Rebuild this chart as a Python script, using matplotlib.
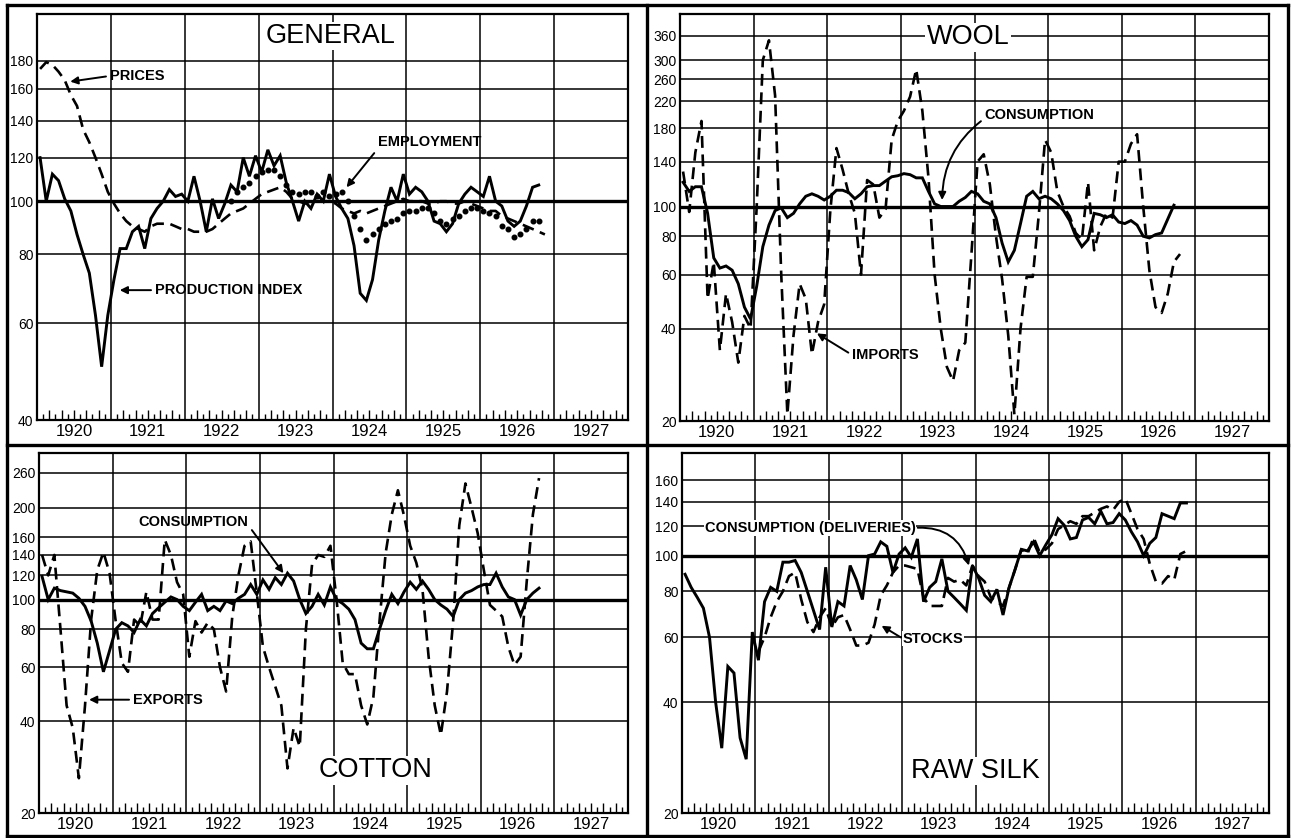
import numpy as np
import matplotlib
matplotlib.use("Agg")
import matplotlib.pyplot as plt
import matplotlib.transforms as mtransforms
from matplotlib.lines import Line2D
from matplotlib.ticker import FixedLocator, FixedFormatter, NullLocator, NullFormatter

plt.rcParams['font.family'] = ['Liberation Sans', 'DejaVu Sans']

YEARS = list(range(1920, 1928))

# ---- GENERAL (monthly index numbers from Jan 1920) ----
general_production = [120, 100, 112, 109, 101, 96, 87, 80, 74, 62, 50, 62,
                      72, 82, 82, 88, 90, 82, 93, 97, 100, 105, 102, 103,
                      100, 111, 100, 88, 101, 93, 99, 107, 104, 120, 111, 121,
                      113, 124, 116, 121, 108, 100, 92, 100, 97, 103, 100, 112,
                      102, 97, 93, 83, 68, 66, 72, 85, 96, 106, 100, 112,
                      103, 106, 104, 100, 92, 91, 88, 91, 99, 103, 106, 104,
                      102, 111, 100, 98, 92, 90, 92, 98, 106, 107]
general_prices = [174, 179, 177, 172, 166, 156, 149, 135, 128, 120, 112, 104,
                  99, 95, 92, 90, 89, 88, 90, 91, 91, 91, 90, 89,
                  89, 88, 88, 88, 89, 91, 93, 95, 96, 97, 99, 101,
                  103, 104, 105, 106, 104, 101, 100, 99, 100, 100, 100, 100,
                  99, 97, 96, 95, 96, 95, 96, 97, 98, 99, 100, 101,
                  100, 100, 100, 99, 99, 100, 100, 99, 99, 100, 99, 98,
                  97, 96, 96, 94, 93, 92, 91, 90, 89, 88, 87]
employment_start = 31
general_employment = [100, 104, 106, 108, 111, 113, 114, 114, 111, 107, 104, 103, 104, 104, 102, 104, 102,
                      103, 104, 100, 94, 89, 85, 87, 89, 91, 92, 93, 95,
                      96, 96, 97, 97, 95, 92, 91, 93, 94, 96, 97, 97,
                      96, 95, 94, 90, 89, 86, 87, 89, 92, 92]

# ---- WOOL ----
wool_consumption = [120, 112, 116, 116, 95, 68, 63, 64, 62, 56, 47, 43,
                    55, 74, 87, 97, 99, 92, 95, 102, 108, 110, 108, 105,
                    108, 113, 113, 111, 106, 110, 116, 117, 117, 121, 125, 126,
                    128, 127, 124, 124, 112, 102, 100, 100, 100, 104, 107, 112,
                    110, 104, 102, 92, 76, 66, 72, 88, 108, 112, 106, 108,
                    106, 102, 97, 90, 80, 74, 78, 95, 94, 92, 94, 89,
                    88, 90, 87, 80, 79, 81, 82, 91, 101]
wool_imports = [130, 96, 150, 190, 50, 66, 34, 52, 42, 31, 44, 40,
                100, 300, 348, 230, 60, 21, 38, 56, 50, 33, 42, 48,
                97, 155, 132, 110, 95, 60, 122, 118, 92, 98, 165, 190,
                205, 228, 280, 205, 124, 60, 40, 30, 27, 34, 36, 70,
                140, 148, 118, 80, 58, 38, 21, 40, 59, 59, 95, 165,
                150, 112, 100, 93, 82, 78, 120, 72, 86, 95, 92, 140,
                140, 160, 172, 100, 62, 47, 45, 52, 66, 70]

# ---- COTTON ----
cotton_consumption = [119, 100, 109, 107, 106, 105, 101, 95, 85, 72, 58, 68,
                      80, 84, 82, 78, 86, 82, 90, 94, 98, 102, 100, 95,
                      92, 98, 104, 92, 95, 92, 99, 97, 101, 104, 112, 104,
                      116, 108, 118, 112, 122, 115, 100, 90, 95, 104, 96, 110,
                      100, 97, 93, 86, 72, 69, 69, 80, 92, 104, 97, 106,
                      114, 108, 115, 108, 100, 96, 93, 88, 100, 105, 107, 110,
                      112, 112, 122, 110, 102, 100, 89, 100, 105, 109]
cotton_exports = [140, 120, 140, 80, 45, 38, 26, 45, 86, 125, 143, 122,
                  85, 62, 58, 86, 82, 106, 86, 86, 157, 140, 114, 104,
                  65, 85, 78, 84, 80, 60, 50, 88, 120, 150, 155, 105,
                  70, 60, 52, 45, 28, 38, 33, 80, 130, 140, 138, 150,
                  100, 62, 57, 57, 45, 39, 48, 85, 142, 190, 228, 188,
                  150, 132, 108, 65, 45, 36, 50, 85, 175, 240, 200, 165,
                  125, 96, 92, 88, 70, 61, 65, 115, 190, 250]

# ---- RAW SILK ----
silk_consumption = [89, 82, 77, 72, 60, 40, 30, 50, 48, 32, 28, 62,
                    52, 75, 82, 80, 96, 96, 97, 90, 80, 71, 63, 93,
                    64, 75, 73, 94, 86, 76, 100, 101, 109, 106, 90, 101,
                    105, 99, 111, 75, 82, 85, 98, 80, 77, 74, 71, 94,
                    87, 78, 75, 81, 69, 82, 92, 104, 103, 109, 100, 107,
                    114, 126, 121, 111, 112, 125, 127, 122, 132, 122, 123, 130,
                    125, 116, 109, 100, 108, 112, 130, 128, 126, 139, 139]
stocks_start = 12
silk_stocks = [55, 60, 68, 75, 80, 88, 90, 76, 66, 62, 68, 72,
               64, 68, 69, 63, 57, 57, 58, 65, 78, 83, 90, 94,
               94, 93, 92, 77, 73, 73, 73, 87, 85, 86, 83, 94,
               88, 85, 77, 75, 73, 82, 92, 104, 101, 112, 102, 104,
               108, 118, 121, 124, 122, 128, 128, 131, 134, 136, 133, 140,
               143, 130, 118, 111, 95, 85, 84, 88, 86, 101, 103]


def months(values, start=0):
    return 1920 + (start + np.arange(len(values)) + 0.5) / 12


def setup_panel(ax, ylim, yticks):
    ax.set_yscale('log')
    ax.set_xlim(1920, 1928)
    ax.set_ylim(*ylim)
    ax.yaxis.set_major_locator(FixedLocator(yticks))
    ax.yaxis.set_major_formatter(FixedFormatter([str(v) for v in yticks]))
    ax.yaxis.set_minor_locator(NullLocator())
    ax.yaxis.set_minor_formatter(NullFormatter())
    ax.tick_params(axis='y', length=0, pad=2.5, labelsize=10)
    for v in yticks:
        if v > ylim[0]:
            ax.axhline(v, color='k', lw=2.4 if v == 100 else 1.1, zorder=1)
    for yr in YEARS[1:]:
        ax.axvline(yr, color='k', lw=1.1, zorder=1)

    # monthly ticks along the bottom
    tall = [1920 + k / 12 for k in range(1, 96) if k % 12 and k % 2 == 0]
    short = [1920 + k / 12 for k in range(1, 96) if k % 12 and k % 2 == 1]
    ax.xaxis.set_major_locator(FixedLocator(tall))
    ax.xaxis.set_minor_locator(FixedLocator(short))
    ax.xaxis.set_major_formatter(NullFormatter())
    ax.tick_params(axis='x', which='major', direction='in', length=7, width=1.0)
    ax.tick_params(axis='x', which='minor', direction='in', length=4, width=1.0)

    trans = mtransforms.offset_copy(ax.get_xaxis_transform(), fig=ax.figure, y=-3, units='points')
    for yr in YEARS:
        ax.text(yr + 0.5, 0, str(yr), transform=trans, ha='center', va='top', fontsize=12)
    for s in ax.spines.values():
        s.set_linewidth(1.6)


def title(ax, x, y, label):
    ax.text(x, y, label, transform=ax.transAxes, ha='center', va='center', fontsize=19.5,
            zorder=5, bbox=dict(facecolor='white', edgecolor='none', pad=1))


def note(ax, label, xytext, xy, relpos=(0, 0.5), rad=0.0, box=False):
    kw = dict(facecolor='white', edgecolor='none', pad=0.5) if box else None
    ax.annotate(label, xy=xy, xytext=xytext, ha='left', va='center', fontsize=10.5,
                fontweight='bold', zorder=6, bbox=kw,
                arrowprops=dict(arrowstyle='-|>', color='k', lw=1.4, mutation_scale=11,
                                shrinkA=1, shrinkB=0, relpos=relpos,
                                connectionstyle=f'arc3,rad={rad}'))


W, H = 1292, 838
fig = plt.figure(figsize=(W / 100, H / 100), dpi=100)


def axes_px(left, right, top, bottom):
    return fig.add_axes([left / W, (H - bottom) / H, (right - left) / W, (bottom - top) / H])


solid = dict(color='k', lw=2.1, zorder=3, solid_joinstyle='miter')
dashed = dict(color='k', lw=1.9, zorder=3, dashes=(4.5, 2.5))

# GENERAL
ax = axes_px(37, 628, 14, 420)
setup_panel(ax, (40, 219), [40, 60, 80, 100, 120, 140, 160, 180])
ax.plot(months(general_production), general_production, **solid)
ax.plot(months(general_prices), general_prices, **dashed)
ax.plot(months(general_employment, employment_start), general_employment, 'o',
        color='k', ms=3.3, zorder=4)
title(ax, 0.497, 0.946, 'GENERAL')
note(ax, 'PRICES', (1920.99, 169), (1920.45, 165))
note(ax, 'EMPLOYMENT', (1924.61, 128), (1924.19, 106), relpos=(0.02, 0.2))
note(ax, 'PRODUCTION INDEX', (1921.6, 68.9), (1921.12, 68.9))

# WOOL
ax = axes_px(680, 1269, 14, 421)
setup_panel(ax, (20, 424), [20, 40, 60, 80, 100, 140, 180, 220, 260, 300, 360])
ax.plot(months(wool_consumption), wool_consumption, **solid)
ax.plot(months(wool_imports), wool_imports, **dashed)
title(ax, 0.489, 0.943, 'WOOL')
note(ax, 'CONSUMPTION', (1924.14, 198), (1923.56, 105), relpos=(0, 0.3), rad=0.25)
note(ax, 'IMPORTS', (1922.34, 32.8), (1921.86, 38.6))

# COTTON
ax = axes_px(39, 628, 453, 813)
setup_panel(ax, (20, 302), [20, 40, 60, 80, 100, 120, 140, 160, 200, 260])
ax.plot(months(cotton_consumption), cotton_consumption, **solid)
ax.plot(months(cotton_exports), cotton_exports, **dashed)
title(ax, 0.572, 0.119, 'COTTON')
note(ax, 'CONSUMPTION', (1921.35, 179), (1923.32, 122), relpos=(1, 0.3))
note(ax, 'EXPORTS', (1921.28, 47), (1920.68, 47))

# RAW SILK
ax = axes_px(682, 1269, 453, 813)
setup_panel(ax, (20, 190), [20, 40, 60, 80, 100, 120, 140, 160])
ax.plot(months(silk_consumption), silk_consumption, **solid)
ax.plot(months(silk_stocks, stocks_start), silk_stocks, **dashed)
title(ax, 0.499, 0.117, 'RAW SILK')
note(ax, 'CONSUMPTION (DELIVERIES)', (1920.31, 119), (1923.91, 94), relpos=(1, 0.5),
     rad=-0.4, box=True)
note(ax, 'STOCKS', (1923.01, 59.5), (1922.72, 64.5), box=True)

# outer frame and separators
def frame_line(x0, y0, x1, y1, lw=2.4):
    fig.add_artist(Line2D([x0 / W, x1 / W], [(H - y0) / H, (H - y1) / H],
                          transform=fig.transFigure, color='k', lw=lw))

frame_line(7, 5, 1288, 5)
frame_line(7, 836, 1288, 836)
frame_line(7, 5, 7, 836)
frame_line(1288, 5, 1288, 836)
frame_line(647, 5, 647, 836)
frame_line(7, 445, 1288, 445)

fig.savefig('out.png', dpi=100, facecolor='white')
